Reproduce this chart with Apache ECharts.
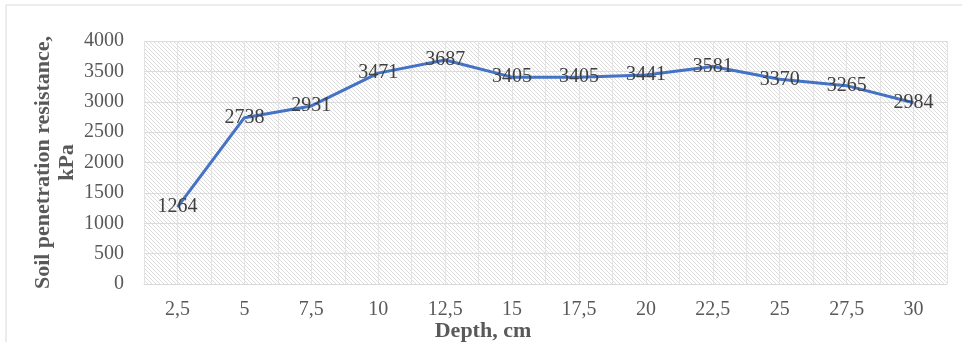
<!DOCTYPE html>
<html>
<head>
<meta charset="utf-8">
<script src="https://cdn.jsdelivr.net/npm/echarts@6/dist/echarts.min.js"></script>
<style>
  html, body { margin: 0; padding: 0; background: #fff; }
  #chart { width: 962px; height: 342px; }
</style>
</head>
<body>
<div id="chart"></div>
<script>
// Depth categories (cm) and soil penetration resistance (kPa)
const depths = ['2,5', '5', '7,5', '10', '12,5', '15', '17,5', '20', '22,5', '25', '27,5', '30'];
const resistance = [1264, 2738, 2931, 3471, 3687, 3405, 3405, 3441, 3581, 3370, 3265, 2984];

// Fine diagonal hatch used as the plot-area background
function hatchPattern() {
  const c = document.createElement('canvas');
  c.width = 4; c.height = 4;
  const g = c.getContext('2d');
  g.fillStyle = '#ffffff';
  g.fillRect(0, 0, 4, 4);
  g.strokeStyle = '#dcdcdc';
  g.lineWidth = 1;
  g.beginPath();
  g.moveTo(-1, -1); g.lineTo(5, 5);
  g.moveTo(-1, 3); g.lineTo(1, 5);
  g.moveTo(3, -1); g.lineTo(5, 1);
  g.stroke();
  return { image: c, repeat: 'repeat' };
}

const serif = '"Liberation Serif", "Times New Roman", serif';
const chart = echarts.init(document.getElementById('chart'));
chart.setOption({
  animation: false,
  grid: {
    left: 144, top: 41, right: 15, bottom: 58,
    show: true,
    backgroundColor: hatchPattern(),
    borderWidth: 0
  },
  graphic: [
    {
      type: 'rect',
      shape: { x: 6, y: 5, width: 1000, height: 400 },
      style: { fill: 'none', stroke: '#d9d9d9', lineWidth: 1 },
      silent: true
    },
    {
      type: 'text',
      x: 483, y: 331,
      style: {
        text: 'Depth, cm',
        font: 'bold 22px ' + serif,
        fill: '#595959',
        textAlign: 'center',
        textVerticalAlign: 'middle'
      }
    }
  ],
  xAxis: [
    {
      type: 'category',
      data: depths,
      boundaryGap: true,
      axisLine: { show: true, lineStyle: { color: '#d9d9d9', width: 1 } },
      axisTick: { show: false },
      axisLabel: { color: '#595959', fontFamily: serif, fontSize: 20, margin: 16 },
      splitLine: { show: false }
    },
    {
      type: 'value',
      min: 0, max: 24, interval: 1,
      show: true,
      position: 'bottom',
      axisLine: { show: false },
      axisTick: { show: false },
      axisLabel: { show: false },
      splitLine: { show: true, lineStyle: { color: '#e3e3e3', width: 1 } }
    }
  ],
  yAxis: {
    type: 'value',
    min: 0, max: 4000, interval: 500,
    name: 'Soil penetration resistance,\nkPa',
    nameLocation: 'middle',
    nameRotate: 90,
    nameGap: 65,
    nameMoveOverlap: false,
    nameTextStyle: { color: '#595959', fontFamily: serif, fontSize: 22, fontWeight: 'bold', lineHeight: 24 },
    axisLine: { show: false },
    axisTick: { show: false },
    axisLabel: { color: '#595959', fontFamily: serif, fontSize: 20, margin: 20, formatter: (v) => String(v) },
    splitLine: { show: true, lineStyle: { color: '#dcdcdc', width: 1 } }
  },
  series: [{
    type: 'line',
    xAxisIndex: 0,
    data: resistance,
    symbol: 'circle',
    symbolSize: 1,
    itemStyle: { color: 'rgba(68,114,196,0)' },
    lineStyle: { color: '#4472C4', width: 3 },
    label: {
      show: true,
      position: 'inside',
      color: '#404040',
      fontFamily: serif,
      fontSize: 20
    },
    z: 5
  }]
});
</script>
</body>
</html>
